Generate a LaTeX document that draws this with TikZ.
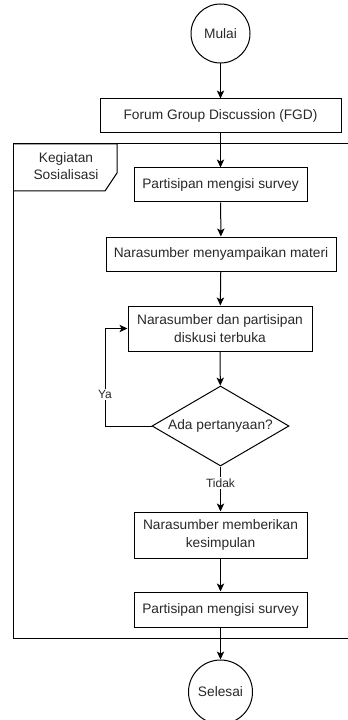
\documentclass[tikz,border=0pt]{standalone}
\usepackage{fontspec}
\setmainfont{Liberation Sans}
\usetikzlibrary{arrows.meta,shapes.geometric}

\definecolor{teksabu}{RGB}{40,40,40}

\tikzset{every picture/.style={line width=0.75pt}}
\tikzset{
  terminal/.style={circle,draw,inner sep=0pt,text=teksabu,font=\fontsize{10.3}{13}\selectfont},
  proses/.style={rectangle,draw,inner sep=2pt,align=center,text=teksabu,font=\fontsize{10.3}{13}\selectfont},
  keputusan/.style={diamond,draw,aspect=1.7,inner sep=0pt,text=teksabu,font=\fontsize{10.3}{13}\selectfont},
  ket/.style={fill=white,inner sep=1pt,text=teksabu,font=\fontsize{9}{11}\selectfont},
  panah/.style={-{Stealth[length=6pt,width=5.5pt,inset=1.5pt]}}
}

\begin{document}
\begin{tikzpicture}[x=0.75pt,y=0.75pt,yscale=-1,xscale=1]
\useasboundingbox (0,0) rectangle (347,720);

%Shape: Frame [id:kegiatan]
\draw (349,144) -- (13,144) -- (13,638) -- (349,638) ;
\draw (13,144) -- (117,144) -- (117,173) -- (105,191) -- (13,191) ;
% Text Node
\node [align=center,text=teksabu,font=\fontsize{10.3}{13}\selectfont] (judul) at (66,166) {Kegiatan\\Sosialisasi};

%Shape: Circle [id:mulai]
\node [terminal,minimum size=44.25pt] (mulai) at (220.5,33.5) {Mulai};
%Shape: Rectangle [id:fgd]
\node [proses,minimum width=180.75pt,minimum height=25.5pt] (fgd) at (220.5,116) {Forum Group Discussion (FGD)};
%Shape: Rectangle [id:survey1]
\node [proses,minimum width=129.75pt,minimum height=25.5pt] (survey1) at (220.5,185) {Partisipan mengisi survey};
%Shape: Rectangle [id:materi]
\node [proses,minimum width=172.5pt,minimum height=25.5pt] (materi) at (221,254) {Narasumber menyampaikan materi};
%Shape: Rectangle [id:diskusi]
\node [proses,minimum width=138pt,minimum height=33.75pt] (diskusi) at (220,328.5) {Narasumber dan partisipan\\diskusi terbuka};
%Shape: Diamond [id:tanya]
\node [keputusan,minimum width=102.75pt,minimum height=60pt] (tanya) at (220.5,426) {Ada pertanyaan?};
%Shape: Rectangle [id:kesimpulan]
\node [proses,minimum width=129.75pt,minimum height=34.5pt] (kesimpulan) at (220.5,535) {Narasumber memberikan\\kesimpulan};
%Shape: Rectangle [id:survey2]
\node [proses,minimum width=129.75pt,minimum height=26.25pt] (survey2) at (220.5,609.5) {Partisipan mengisi survey};
%Shape: Circle [id:selesai]
\node [terminal,minimum size=48pt] (selesai) at (220.5,692) {Selesai};

%Straight Lines
\draw [panah] (mulai) -- (fgd) ;
\draw [panah] (fgd) -- (survey1) ;
\draw [panah] (survey1) -- (materi) ;
\draw [panah] (materi) -- (diskusi) ;
\draw [panah] (diskusi) -- (tanya) ;
\draw [panah] (tanya) -- node [ket,pos=0.37] {Tidak} (kesimpulan) ;
\draw [panah] (kesimpulan) -- (survey2) ;
\draw [panah] (survey2) -- (selesai) ;
%Loop Ya
\coordinate (belok) at (105,426) ;
\draw [panah] (tanya.west) -- (belok) |- node [ket,pos=0.16] {Ya} (diskusi.west) ;

\end{tikzpicture}
\end{document}
